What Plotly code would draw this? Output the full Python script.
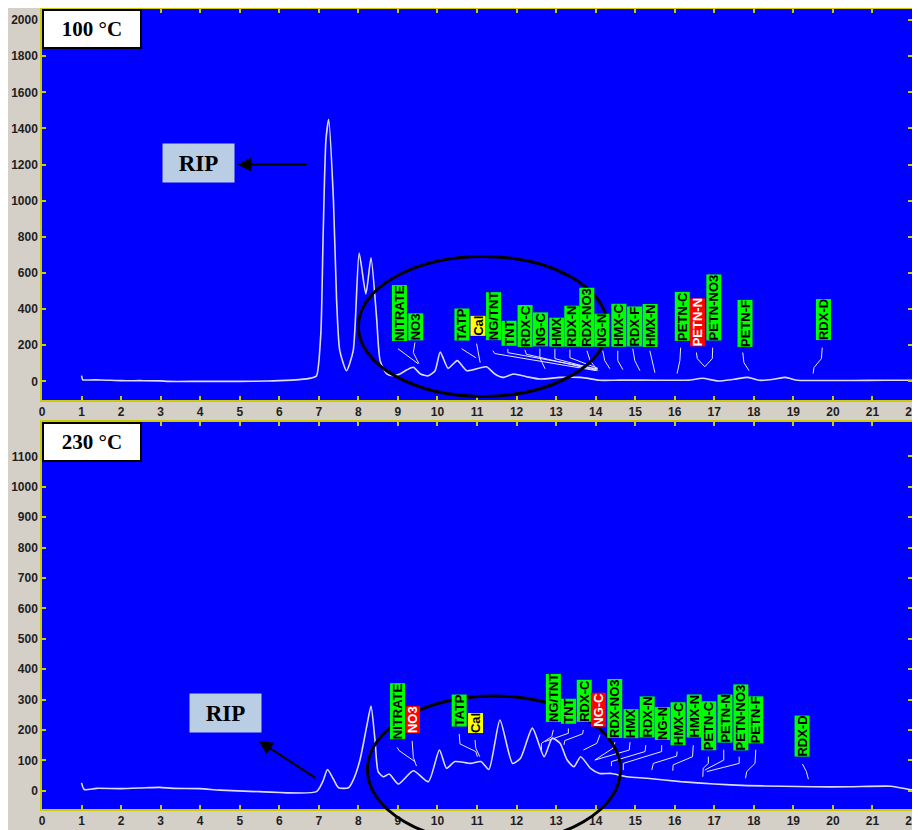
import plotly.graph_objects as go

# ---------------- data ----------------
top_x = [1.0, 1.03, 1.1, 1.5, 2.0, 2.5, 3.0, 3.2, 4.0, 5.0, 5.7, 6.0, 6.5, 6.8, 6.94,
         7.05, 7.11, 7.18, 7.25, 7.37, 7.45, 7.53, 7.7, 7.87, 8.02, 8.19, 8.32, 8.46,
         8.55, 8.72, 8.88, 9.05, 9.22, 9.39, 9.57, 9.77, 9.94, 10.07, 10.27, 10.5,
         10.74, 11.07, 11.24, 11.45, 11.66, 11.92, 12.25, 12.59, 13.1, 13.6, 13.77,
         14.1, 14.6, 15.2, 16.0, 16.4, 16.7, 17.1, 17.5, 17.85, 18.15, 18.5, 18.8,
         19.1, 19.6, 20.5, 21.3, 22.0]
top_y = [32, 8, 8, 8, 4, 4, 3, 0, 0, 0, 2, 4, 10, 18, 30,
         263, 817, 1335, 1449, 1002, 447, 170, 59, 170, 710, 484, 684, 355,
         115, 41, 31, 41, 63, 78, 41, 31, 59, 163, 72, 115,
         59, 74, 81, 41, 22, 41, 26, 13, 22, 22, 18,
         6, 7, 7, 6, 8, 17, 2, 12, 22, 6, 12, 22,
         6, 5, 5, 6, 6]

bot_x = [1.0, 1.07, 1.38, 2.0, 2.65, 2.98, 3.32, 3.99, 4.5, 5.51, 6.94,
         7.1, 7.22, 7.37, 7.5, 7.75, 7.87, 8.04, 8.21, 8.32, 8.42, 8.5, 8.63,
         8.78, 9.01, 9.39, 9.77, 10.05, 10.23, 10.44, 10.84, 11.1, 11.3, 11.58,
         11.9, 12.1, 12.4, 12.7, 12.9, 13.1, 13.28, 13.45, 13.62, 13.87, 14.1,
         14.4, 14.8, 15.3, 16.15, 17.0, 17.84, 18.7, 19.5, 20.4, 21.47, 21.9, 22.0]
bot_y = [26, 4, 8, 7, 10, 11, 8, 7, 2, -3, -3,
         30, 70, 38, 10, 10, 35, 101, 211, 279, 167, 63, 46,
         55, 22, 66, 30, 134, 74, 96, 90, 96, 70, 233,
         90, 107, 206, 112, 173, 156, 101, 79, 112, 74, 57,
         57, 46, 41, 30, 22, 17, 15, 13, 13, 15, 5, 3]

x_ticks = list(range(0, 23))
top_y_ticks = list(range(0, 2001, 200))
bot_y_ticks = list(range(0, 1101, 100))

top_labels = ["NITRATE", "NO3", "TATP", "Cal", "NG/TNT", "TNT", "RDX-C", "NG-C", "HMX",
              "RDX-N", "RDX-NO3", "NG-N", "HMX-C", "RDX-F", "HMX-N", "PETN-C", "PETN-N",
              "PETN-NO3", "PETN-F", "RDX-D"]
top_label_x = [9.04, 9.44, 10.62, 11.03, 11.42, 11.80, 12.22, 12.61, 13.01, 13.39, 13.77,
               14.15, 14.58, 14.99, 15.37, 16.18, 16.58, 16.99, 17.77, 19.75]
top_label_y = [226, 226, 226, 253, 226, 198, 192, 192, 192, 192, 192,
               192, 192, 192, 192, 226, 192, 226, 192, 226]
top_label_kind = ["g", "g", "g", "y", "g", "g", "g", "g", "g", "g", "g",
                  "g", "g", "g", "g", "g", "r", "g", "g", "g"]

bot_labels = ["NITRATE", "NO3", "TATP", "Cal", "NG/TNT", "TNT", "RDX-C", "NG-C", "RDX-NO3",
              "HMX", "RDX-N", "NG-N", "HMX-C", "HMX-N", "PETN-C", "PETN-N", "PETN-NO3",
              "PETN-F", "RDX-D"]
bot_label_x = [8.98, 9.37, 10.56, 10.95, 12.92, 13.31, 13.70, 14.08, 14.48, 14.89, 15.30,
               15.69, 16.08, 16.49, 16.86, 17.26, 17.66, 18.05, 19.22]
bot_label_y = [170, 190, 210, 190, 226, 220, 226, 210, 174, 174, 174,
               167, 151, 174, 134, 157, 134, 157, 111]
bot_label_kind = ["g", "r", "g", "y", "g", "g", "g", "r", "g", "g", "g",
                  "g", "g", "g", "g", "g", "g", "g", "g"]

top_leaders = [
    [(9.0, 181), (9.51, 98)],
    [(9.43, 215), (9.39, 159), (9.53, 98)],
    [(10.61, 181), (10.97, 131)],
    [(10.99, 209), (11.03, 159), (11.08, 104)],
    [(11.4, 170), (11.45, 154), (14.03, 59)],
    [(11.78, 180), (11.78, 159), (14.03, 70)],
    [(12.21, 175), (12.25, 150), (14.0, 62)],
    [(12.59, 181), (12.59, 131), (12.72, 70)],
    [(12.97, 180), (12.97, 126), (14.03, 65)],
    [(13.35, 176), (13.35, 131), (14.06, 72)],
    [(13.78, 170), (13.86, 115), (14.06, 59)],
    [(14.18, 170), (14.23, 115), (14.36, 70)],
    [(14.56, 170), (14.56, 115), (14.69, 65)],
    [(14.94, 181), (14.99, 115), (15.12, 59)],
    [(15.37, 170), (15.42, 115), (15.5, 48)],
    [(16.15, 187), (16.13, 115), (16.06, 43)],
    [(16.55, 160), (16.57, 126), (16.76, 81)],
    [(16.96, 187), (16.95, 126), (16.76, 81)],
    [(17.72, 160), (17.75, 104), (17.88, 59)],
    [(19.73, 187), (19.71, 126), (19.52, 76), (19.5, 43)],
]

bot_leaders = [
    [(8.98, 143), (9.03, 132), (9.43, 96)],
    [(9.36, 164), (9.39, 110), (9.47, 81)],
    [(10.55, 187), (10.57, 154), (10.97, 129), (11.01, 112)],
    [(10.95, 167), (10.97, 140), (11.07, 112)],
    [(12.93, 200), (12.89, 178), (12.63, 156), (12.63, 134)],
    [(13.31, 205), (13.31, 189), (12.72, 162)],
    [(13.69, 200), (13.67, 187), (13.22, 165), (13.2, 151)],
    [(14.11, 184), (14.03, 156), (13.69, 134)],
    [(14.49, 160), (14.44, 140), (13.98, 101)],
    [(14.87, 160), (14.85, 134), (13.98, 101)],
    [(15.27, 150), (15.25, 129), (14.4, 96), (14.4, 81)],
    [(15.67, 150), (15.67, 129), (14.7, 90), (14.7, 68)],
    [(16.06, 129), (16.05, 114), (15.46, 90), (15.42, 68)],
    [(16.47, 150), (16.45, 112), (15.96, 85), (15.95, 66)],
    [(16.85, 112), (16.85, 90), (16.72, 74), (16.71, 46)],
    [(17.24, 135), (17.24, 101), (16.76, 68)],
    [(17.63, 112), (17.63, 90), (16.81, 63)],
    [(18.05, 135), (18.03, 90), (17.82, 63), (17.79, 41)],
    [(19.23, 88), (19.33, 63), (19.38, 38)],
]

# ---------------- layout geometry ----------------
# the page body has an 8 px margin, so the figure starts at (8, 8) in the window
W, H = 912, 822
X_RANGE = [0, 22.0]
TOP_RANGE = [-103, 2061]
BOT_RANGE = [-60, 1213]
XDOM = [34 / W, 904 / W]
TOP_DOM = [1 - 392 / H, 1 - 1 / H]
BOT_DOM = [1 - 801 / H, 1 - 414 / H]

BLUE = "#0000FF"
GRAY = "#D4D0C8"
AXCOL = "#CCCC00"
TRACE = "#DCDCFF"


def fx(v):
    return (v - X_RANGE[0]) / (X_RANGE[1] - X_RANGE[0])


def fy(v, r):
    return (v - r[0]) / (r[1] - r[0])


def leader_xy(leaders):
    xs, ys = [], []
    for seg in leaders:
        for (a, b) in seg:
            xs.append(a)
            ys.append(b)
        xs.append(None)
        ys.append(None)
    return xs, ys


fig = go.Figure()

fig.add_trace(go.Scatter(x=top_x, y=top_y, mode="lines", xaxis="x", yaxis="y",
                         line=dict(color=TRACE, width=1.6, shape="spline", smoothing=0.6),
                         hoverinfo="skip"))
fig.add_trace(go.Scatter(x=bot_x, y=bot_y, mode="lines", xaxis="x2", yaxis="y2",
                         line=dict(color=TRACE, width=1.6, shape="spline", smoothing=0.6),
                         hoverinfo="skip"))

lx, ly = leader_xy(top_leaders)
fig.add_trace(go.Scatter(x=lx, y=ly, mode="lines", xaxis="x", yaxis="y",
                         line=dict(color="#E8E8FF", width=1), hoverinfo="skip"))
lx, ly = leader_xy(bot_leaders)
fig.add_trace(go.Scatter(x=lx, y=ly, mode="lines", xaxis="x2", yaxis="y2",
                         line=dict(color="#E8E8FF", width=1), hoverinfo="skip"))

axis_common = dict(showgrid=False, zeroline=False, showline=True, linecolor=AXCOL,
                   linewidth=1.5, ticks="inside", ticklen=4, tickcolor=AXCOL,
                   tickwidth=1.5, mirror="ticks", automargin=False,
                   tickfont=dict(family="Liberation Sans, Arial", size=12,
                                 color="#1E1E1E", weight="bold"))

fig.update_layout(
    width=W, height=H, margin=dict(l=0, r=0, t=0, b=0, autoexpand=False),
    paper_bgcolor=GRAY, plot_bgcolor=BLUE, showlegend=False,
    xaxis=dict(domain=XDOM, range=X_RANGE, anchor="y", tickvals=x_ticks, **axis_common),
    yaxis=dict(domain=TOP_DOM, range=TOP_RANGE, anchor="x", tickvals=top_y_ticks,
               **axis_common),
    xaxis2=dict(domain=XDOM, range=X_RANGE, anchor="y2", tickvals=x_ticks, **axis_common),
    yaxis2=dict(domain=BOT_DOM, range=BOT_RANGE, anchor="x2", tickvals=bot_y_ticks,
                **axis_common),
)

shapes = []
# ellipses
top_ell = (8.0, 14.3, -83, 691)
bot_ell = (8.23, 14.63, -173, 312)
shapes.append(dict(type="circle", xref="x domain", yref="y domain",
                   x0=fx(top_ell[0]), x1=fx(top_ell[1]),
                   y0=fy(top_ell[2], TOP_RANGE), y1=fy(top_ell[3], TOP_RANGE),
                   line=dict(color="black", width=3)))
shapes.append(dict(type="circle", xref="x2 domain", yref="y2 domain",
                   x0=fx(bot_ell[0]), x1=fx(bot_ell[1]),
                   y0=fy(bot_ell[2], BOT_RANGE), y1=fy(bot_ell[3], BOT_RANGE),
                   line=dict(color="black", width=3)))
fig.update_layout(shapes=shapes)

ann = []
kind_style = {"g": ("#00FF00", "black"), "r": ("#FF0000", "white"), "y": ("#FFFF00", "black")}


def add_labels(labels, xs, ys, kinds, xr, yr):
    for t, x, y, k in zip(labels, xs, ys, kinds):
        bg, fc = kind_style[k]
        ann.append(dict(text=t, x=x, y=y, xref=xr, yref=yr, showarrow=False,
                        textangle=-90, xanchor="center", yanchor="bottom",
                        bgcolor=bg, borderpad=0, bordercolor=bg, borderwidth=0,
                        font=dict(family="Liberation Sans, Arial", size=13,
                                  color=fc, weight="bold")))


add_labels(top_labels, top_label_x, top_label_y, top_label_kind, "x", "y")
add_labels(bot_labels, bot_label_x, bot_label_y, bot_label_kind, "x2", "y2")

# temperature boxes
for txt, xr, yr in [("100 °C", "x domain", "y domain"), ("230 °C", "x2 domain", "y2 domain")]:
    ann.append(dict(text=txt, x=0, y=1, xref=xr, yref=yr, xanchor="left", yanchor="top",
                    showarrow=False, width=94, height=34, bgcolor="white",
                    bordercolor="black", borderwidth=2, borderpad=1,
                    font=dict(family="Liberation Serif, Times New Roman", size=21,
                              color="black", weight="bold")))

# RIP boxes and arrows
rip_boxes = [(3.95, 1210, "x", "y"), (4.63, 257, "x2", "y2")]
for x, y, xr, yr in rip_boxes:
    ann.append(dict(text="RIP", x=x, y=y, xref=xr, yref=yr, showarrow=False,
                    width=69, height=36, bgcolor="#B9CDE5",
                    font=dict(family="Liberation Serif, Times New Roman", size=23,
                              color="black", weight="bold")))
rip_arrows = [(4.94, 1200, 6.73, 1200, "x", "y"), (5.48, 164, 6.95, 39, "x2", "y2")]
for hx, hy, tx, ty, xr, yr in rip_arrows:
    ann.append(dict(text="", x=hx, y=hy, ax=tx, ay=ty, xref=xr, yref=yr, axref=xr,
                    ayref=yr, showarrow=True, arrowhead=2, arrowsize=1.4, arrowwidth=2,
                    arrowcolor="black", standoff=0))

fig.update_layout(annotations=ann)
fig.write_html("out.html")
